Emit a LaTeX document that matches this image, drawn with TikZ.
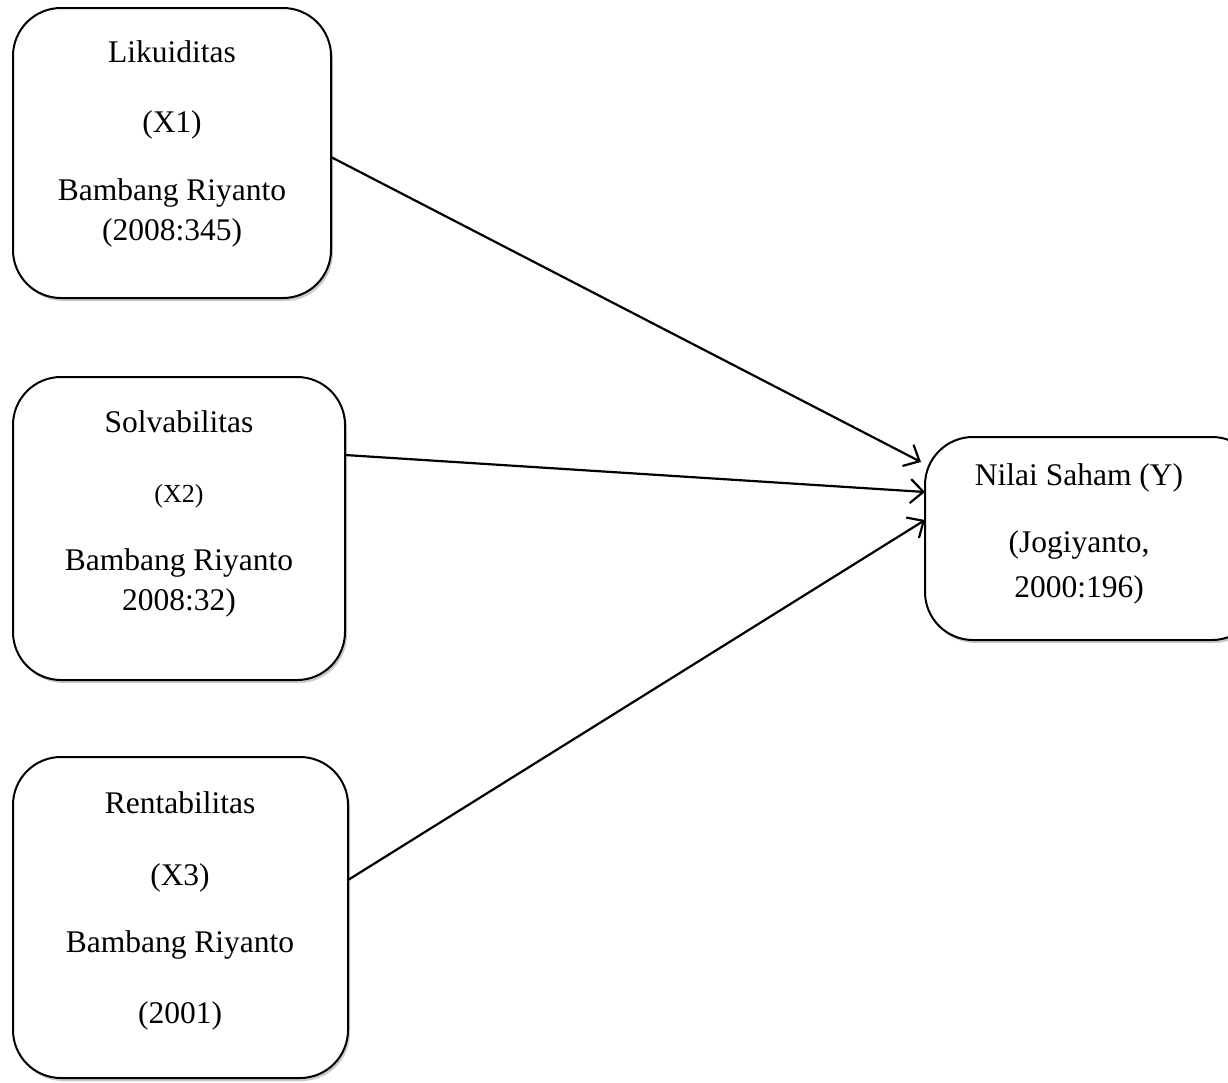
\documentclass[tikz,border=0pt]{standalone}
\usepackage{fontspec}
\setmainfont{Liberation Serif}
\usetikzlibrary{arrows.meta,shadows}
\begin{document}
\begin{tikzpicture}[x=1pt,y=-1pt,
  vbox/.style={draw=black,line width=2pt,rounded corners=48pt,fill=white,
    drop shadow={shadow xshift=2pt,shadow yshift=-3pt,opacity=0.35,fill=black!60}},
  txt/.style={anchor=base,inner sep=0pt,font=\fontsize{31.5}{36}\selectfont},
  smalltxt/.style={anchor=base,inner sep=0pt,font=\fontsize{26}{30}\selectfont},
  link/.style={line width=2.2pt,-{Straight Barb[length=13pt,width=24pt,line width=2.2pt]}}]
\useasboundingbox (0,0) rectangle (1228,1082);
\begin{scope}
\clip (0,0) rectangle (1228,1082);
% boxes
\path[vbox] (13,8) rectangle (331,298);
\path[vbox] (13,377) rectangle (345,680);
\path[vbox] (13,757) rectangle (348,1078);
\path[vbox] (925,437) rectangle (1260,640);
\end{scope}
\coordinate (b1) at (331,157);
\coordinate (b2) at (345,455);
\coordinate (b3) at (348,880);
\coordinate (y1) at (921,462);
\coordinate (y2) at (925,492);
\coordinate (y3) at (925,520);
% texts box 1
\node[txt] (t11) at (172,62) {Likuiditas};
\node[txt] (t12) at (172,132) {(X1)};
\node[txt] (t13) at (172,200) {Bambang Riyanto};
\node[txt] (t14) at (172,240) {(2008:345)};
% box 2
\node[txt] (t21) at (179,432) {Solvabilitas};
\node[smalltxt] (t22) at (179,502) {(X2)};
\node[txt] (t23) at (179,570) {Bambang Riyanto};
\node[txt] (t24) at (179,610) {2008:32)};
% box 3
\node[txt] (t31) at (180,813) {Rentabilitas};
\node[txt] (t32) at (180,885) {(X3)};
\node[txt] (t33) at (180,952) {Bambang Riyanto};
\node[txt] (t34) at (180,1023) {(2001)};
% box Y
\node[txt] (ty1) at (1079,485) {Nilai Saham (Y)};
\node[txt] (ty2) at (1079,552) {(Jogiyanto,};
\node[txt] (ty3) at (1079,597) {2000:196)};
% arrows
\draw[link] (b1) -- (y1);
\draw[link] (b2) -- (y2);
\draw[link] (b3) -- (y3);
\end{tikzpicture}
\end{document}
